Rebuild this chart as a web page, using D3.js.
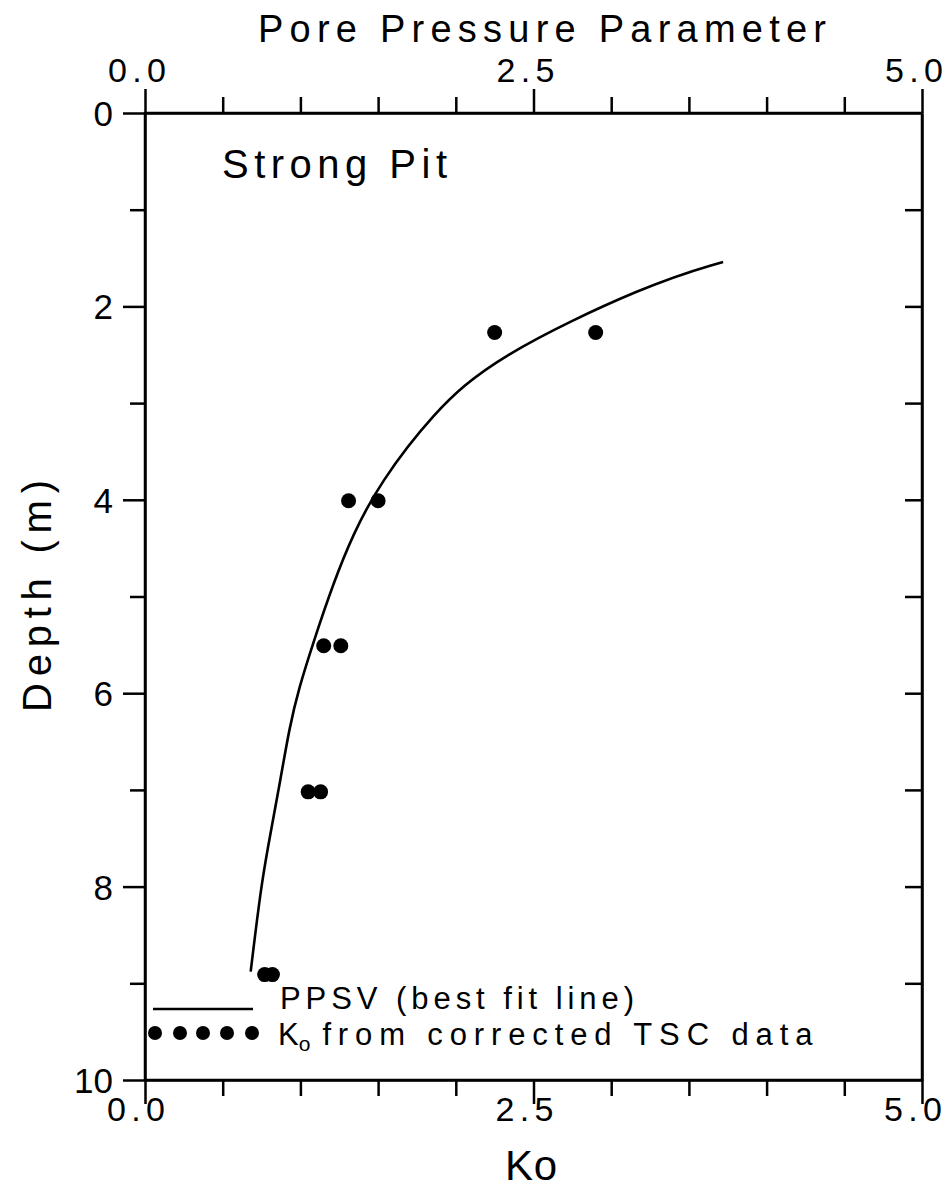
<!DOCTYPE html>
<html><head><meta charset="utf-8">
<script src="https://cdn.jsdelivr.net/npm/d3@7"></script>
<style>
body{margin:0;background:#fff;}
text{font-family:"Liberation Sans","DejaVu Sans",sans-serif;fill:#000;}
</style></head>
<body><svg id="c" width="950" height="1191"></svg>
<script>
// Data
const curveKo    = [3.72, 3.25, 2.24, 1.85, 1.51, 1.34, 1.21, 1.08, 0.99, 0.93, 0.87, 0.81, 0.75, 0.68];
const curveDepth = [1.54, 1.76, 2.53, 3.11, 3.83, 4.35, 4.87, 5.49, 5.95, 6.35, 6.91, 7.43, 7.95, 8.88];
const pointKo    = [2.25, 2.90, 1.31, 1.50, 1.15, 1.26, 1.05, 1.13, 0.77, 0.82];
const pointDepth = [2.27, 2.27, 4.01, 4.01, 5.51, 5.51, 7.02, 7.02, 8.91, 8.91];
const xTickValues = [0, 2.5, 5];
const xTickLabels = ["0.0", "2.5", "5.0"];
const yTickValues = [0, 2, 4, 6, 8, 10];
const yTickLabels = ["0", "2", "4", "6", "8", "10"];

const svg = d3.select("#c");
const L = 145, R = 922, T = 113, B = 1080;
const x = d3.scaleLinear().domain([0, 5]).range([L, R]);
const y = d3.scaleLinear().domain([0, 10]).range([T, B]);

const minorX = d3.range(0, 5.01, 0.5);
const intY = d3.range(0, 10.01, 1);

// frame
svg.append("rect").attr("x", L).attr("y", T).attr("width", R - L).attr("height", B - T)
  .attr("fill", "none").attr("stroke", "#000").attr("stroke-width", 2.5);

// axes
const gTop = svg.append("g").attr("transform", `translate(0,${T})`)
  .call(d3.axisTop(x).tickValues(minorX).tickFormat("").tickSizeOuter(0).tickSizeInner(15));
gTop.selectAll(".tick line").attr("y2", d => (d % 2.5 === 0) ? -24 : -16);
const gBot = svg.append("g").attr("transform", `translate(0,${B})`)
  .call(d3.axisBottom(x).tickValues(minorX).tickFormat("").tickSizeOuter(0).tickSizeInner(15));
gBot.selectAll(".tick line").attr("y2", d => (d % 2.5 === 0) ? 24 : 16);
const gLeft = svg.append("g").attr("transform", `translate(${L},0)`)
  .call(d3.axisLeft(y).tickValues(intY).tickFormat("").tickSizeOuter(0).tickSizeInner(15));
gLeft.selectAll(".tick line").attr("x2", d => (d % 2 === 0) ? -22 : -15);
const gRight = svg.append("g").attr("transform", `translate(${R},0)`)
  .call(d3.axisLeft(y).tickValues(intY.slice(1, -1)).tickFormat("").tickSizeOuter(0).tickSizeInner(17));
[gTop, gBot, gLeft, gRight].forEach(g => {
  g.select(".domain").attr("stroke", "#000").attr("stroke-width", 2.5);
  g.selectAll(".tick line").attr("stroke", "#000").attr("stroke-width", 2.5);
});

// tick labels
svg.selectAll(".tt").data(xTickValues).enter().append("text")
  .attr("x", d => x(d) - 8).attr("y", 82).attr("text-anchor", "middle")
  .attr("font-size", 34).attr("textLength", 58).attr("lengthAdjust", "spacing")
  .text((d, i) => xTickLabels[i]);
svg.selectAll(".bt").data(xTickValues).enter().append("text")
  .attr("x", d => x(d) - 9).attr("y", 1121).attr("text-anchor", "middle")
  .attr("font-size", 34).attr("textLength", 58).attr("lengthAdjust", "spacing")
  .text((d, i) => xTickLabels[i]);
svg.selectAll(".yl").data(yTickValues).enter().append("text")
  .attr("x", L - 32).attr("y", d => y(d) + 13).attr("text-anchor", "end")
  .attr("font-size", 35).text((d, i) => yTickLabels[i]);

// titles
svg.append("text").attr("x", 258).attr("y", 42)
  .attr("font-size", 38).attr("textLength", 568).attr("lengthAdjust", "spacing")
  .text("Pore Pressure Parameter");
svg.append("text").attr("x", 505).attr("y", 1180)
  .attr("font-size", 42).attr("textLength", 52).attr("lengthAdjust", "spacing").text("Ko");
svg.append("text").attr("transform", "translate(51,712) rotate(-90)")
  .attr("font-size", 40).attr("textLength", 232).attr("lengthAdjust", "spacing").text("Depth (m)");
svg.append("text").attr("x", 222).attr("y", 178).attr("font-size", 40)
  .attr("textLength", 225).attr("lengthAdjust", "spacing").text("Strong Pit");

// curve
const curveData = curveKo.map((k, i) => [k, curveDepth[i]]);
svg.append("path").datum(curveData)
  .attr("d", d3.line().x(d => x(d[0])).y(d => y(d[1])).curve(d3.curveBasis))
  .attr("fill", "none").attr("stroke", "#000").attr("stroke-width", 2.6);

// points
svg.selectAll(".pt").data(pointKo.map((k, i) => [k, pointDepth[i]])).enter().append("circle")
  .attr("cx", d => x(d[0])).attr("cy", d => y(d[1])).attr("r", 7.5).attr("fill", "#000");

// legend
svg.append("line").attr("x1", 153).attr("x2", 253).attr("y1", 1009).attr("y2", 1009)
  .attr("stroke", "#000").attr("stroke-width", 2.5);
svg.selectAll(".ld").data([155, 180, 203, 227, 252]).enter().append("circle")
  .attr("cx", d => d).attr("cy", 1033).attr("r", 7).attr("fill", "#000");
svg.append("text").attr("x", 280).attr("y", 1009).attr("font-size", 31)
  .attr("textLength", 354).attr("lengthAdjust", "spacing").text("PPSV (best fit line)");
const t2 = svg.append("text").attr("x", 278).attr("y", 1045).attr("font-size", 31);
t2.append("tspan").text("K");
t2.append("tspan").attr("font-size", 21).attr("dy", 6).text("o");
t2.append("tspan").attr("dy", -6).attr("dx", 12).attr("textLength", 490).attr("lengthAdjust", "spacing")
  .text("from corrected TSC data");
</script></body></html>
